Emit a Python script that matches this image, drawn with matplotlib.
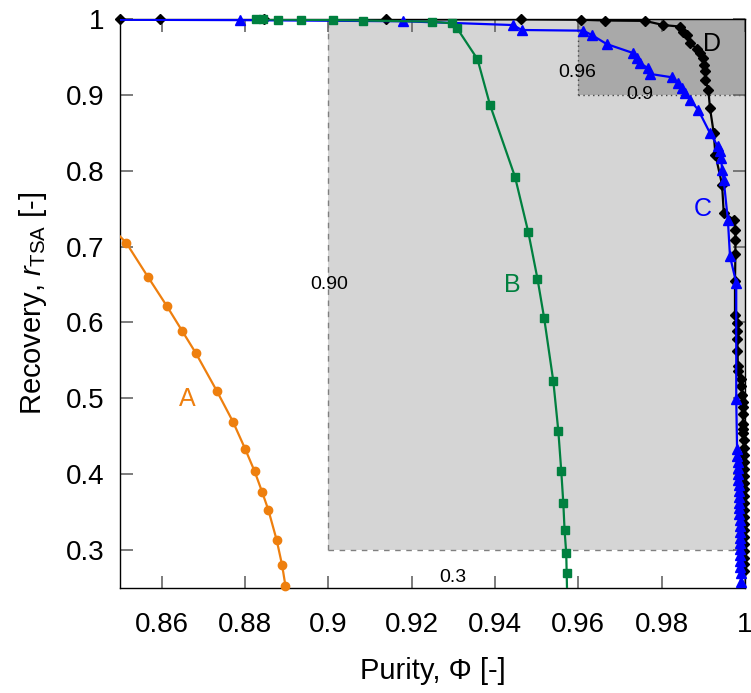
import matplotlib
matplotlib.use("Agg")
import matplotlib.pyplot as plt
from matplotlib.patches import Rectangle

plt.rcParams["font.family"] = ["Liberation Sans", "DejaVu Sans"]
plt.rcParams["mathtext.fontset"] = "custom"
plt.rcParams["mathtext.rm"] = "Liberation Sans"
plt.rcParams["mathtext.it"] = "Liberation Sans:italic"

# --- Pareto fronts: purity (x) vs. recovery (y) ---
a_purity = [0.8485, 0.8515, 0.8567, 0.8612, 0.8649, 0.8682, 0.8732, 0.8771, 0.8800,
            0.8823, 0.8841, 0.8856, 0.8876, 0.8889, 0.8897]
a_recovery = [0.7220, 0.7049, 0.6601, 0.6220, 0.5890, 0.5596, 0.5101, 0.4693, 0.4338,
              0.4039, 0.3767, 0.3530, 0.3132, 0.2803, 0.2530]

b_purity = [0.8827, 0.8843, 0.8880, 0.8934, 0.9011, 0.9082, 0.9248, 0.9296, 0.9308,
            0.9358, 0.9388, 0.9448, 0.9480, 0.9502, 0.9518, 0.9540, 0.9552, 0.9559,
            0.9564, 0.9567, 0.9571, 0.9572, 0.9573]
b_recovery = [0.9995, 0.9995, 0.9993, 0.9990, 0.9985, 0.9980, 0.9965, 0.9943, 0.9886,
              0.9470, 0.8868, 0.7920, 0.7188, 0.6575, 0.6057, 0.5224, 0.4570, 0.4044,
              0.3614, 0.3259, 0.2957, 0.2701, 0.2450]

c_purity = [0.8485, 0.8788, 0.9180, 0.9444, 0.9464, 0.9612, 0.9632, 0.9668, 0.9732,
            0.9740, 0.9748, 0.9768, 0.9772, 0.9824, 0.9840, 0.9848, 0.9856, 0.9868,
            0.9888, 0.9916, 0.9935, 0.9939, 0.9943, 0.9945, 0.9949, 0.9959, 0.9964,
            0.9979, 0.9979, 0.9981, 0.9982, 0.9983, 0.9983, 0.9984, 0.9984, 0.9985,
            0.9985, 0.9985, 0.9986, 0.9986, 0.9986, 0.9987, 0.9987, 0.9987, 0.9988,
            0.9988, 0.9988, 0.9989, 0.9989, 0.9989, 0.9990, 0.9990]
c_recovery = [0.9990, 0.9985, 0.9970, 0.9920, 0.9855, 0.9846, 0.9790, 0.9670, 0.9550,
              0.9480, 0.9417, 0.9350, 0.9276, 0.9232, 0.9150, 0.9088, 0.9020, 0.8934,
              0.8800, 0.8496, 0.8320, 0.8254, 0.8167, 0.8004, 0.7873, 0.7346, 0.6872,
              0.6522, 0.4987, 0.4330, 0.4240, 0.4160, 0.4080, 0.4000, 0.3930, 0.3860,
              0.3780, 0.3700, 0.3620, 0.3550, 0.3470, 0.3400, 0.3320, 0.3240, 0.3160,
              0.3090, 0.3010, 0.2930, 0.2860, 0.2780, 0.2700, 0.2580]

d_purity = [0.8500, 0.8596, 0.8846, 0.9139, 0.9462, 0.9607, 0.9664, 0.9760, 0.9804,
            0.9844, 0.9852, 0.9860, 0.9868, 0.9884, 0.9892, 0.9900, 0.9902, 0.9904,
            0.9905, 0.9912, 0.9916, 0.9925, 0.9929, 0.9945, 0.9949, 0.9973, 0.9977,
            0.9977, 0.9977, 0.9976, 0.9976, 0.9980, 0.9982, 0.9982, 0.9982, 0.9983,
            0.9984, 0.9990, 0.9991, 0.9994, 0.9996, 0.9996, 0.9995, 0.9995, 0.9995,
            0.9996, 0.9997, 0.9997, 0.9997, 0.9997, 0.9997, 0.9998, 0.9998, 0.9998,
            0.9998, 0.9998, 0.9998, 0.9998, 0.9998, 0.9998, 0.9998, 0.9998, 0.9998,
            0.9998, 0.9998, 0.9998]
d_recovery = [0.9995, 0.9995, 0.9995, 0.9995, 0.9995, 0.9990, 0.9980, 0.9975, 0.9920,
              0.9900, 0.9830, 0.9790, 0.9680, 0.9610, 0.9550, 0.9480, 0.9390, 0.9310,
              0.9200, 0.9066, 0.8825, 0.8496, 0.8210, 0.7816, 0.7443, 0.7355, 0.7224,
              0.7083, 0.6908, 0.6543, 0.6105, 0.5996, 0.5886, 0.5780, 0.5627, 0.5430,
              0.5359, 0.5250, 0.5160, 0.5050, 0.4947, 0.4880, 0.4800, 0.4665, 0.4600,
              0.4540, 0.4450, 0.4340, 0.4250, 0.4160, 0.4070, 0.3980, 0.3890, 0.3800,
              0.3710, 0.3620, 0.3530, 0.3440, 0.3350, 0.3260, 0.3170, 0.3080, 0.2990,
              0.2900, 0.2810, 0.2720]

x_ticks = [0.86, 0.88, 0.90, 0.92, 0.94, 0.96, 0.98, 1.00]
x_tick_labels = ["0.86", "0.88", "0.9", "0.92", "0.94", "0.96", "0.98", "1"]
y_ticks = [0.3, 0.4, 0.5, 0.6, 0.7, 0.8, 0.9, 1.0]
y_tick_labels = ["0.3", "0.4", "0.5", "0.6", "0.7", "0.8", "0.9", "1"]

# specification windows (purity, recovery lower bounds)
spec_wide = (0.90, 0.30)
spec_tight = (0.96, 0.90)

X_LIM = (0.85, 1.0)
Y_LIM = (0.25, 1.0)

fig = plt.figure(figsize=(7.51, 6.93), dpi=100)
ax = fig.add_axes([0.1598, 0.1515, 0.8322, 0.8211])
ax.set_xlim(*X_LIM)
ax.set_ylim(*Y_LIM)

# shaded target regions
ax.add_patch(Rectangle(spec_wide, 1.0 - spec_wide[0], 1.0 - spec_wide[1],
                       facecolor="#d5d5d5", edgecolor="none", zorder=0))
ax.add_patch(Rectangle(spec_tight, 1.0 - spec_tight[0], 1.0 - spec_tight[1],
                       facecolor="#a9a9a9", edgecolor="none", zorder=0.5))
ax.plot([spec_wide[0], spec_wide[0]], [spec_wide[1], 1.0], ls=(0, (4, 4)),
        color="#808080", lw=1.0, zorder=1)
ax.plot([spec_wide[0], 1.0], [spec_wide[1], spec_wide[1]], ls=(0, (4, 4)),
        color="#808080", lw=1.0, zorder=1)
ax.plot([spec_tight[0], spec_tight[0]], [spec_tight[1], 1.0], ls=(0, (1, 2.5)),
        color="#444444", lw=1.0, zorder=1)
ax.plot([spec_tight[0], 1.0], [spec_tight[1], spec_tight[1]], ls=(0, (1, 2.5)),
        color="#444444", lw=1.0, zorder=1)

ax.text(0.9001, 0.650, "0.90", fontsize=14, ha="center", va="center", zorder=2)
ax.text(0.9299, 0.2645, "0.3", fontsize=14, ha="center", va="center", zorder=2)
ax.text(0.9597, 0.930, "0.96", fontsize=14, ha="center", va="center", zorder=2)
ax.text(0.9748, 0.900, "0.9", fontsize=14, ha="center", va="center", zorder=2)


def front(xs, ys, color, marker, ms, z):
    # connecting line is clipped to the frame; points inside the range are
    # drawn whole, even where they overhang the border
    ax.plot(xs, ys, color=color, lw=1.6, zorder=z)
    inside = [(x, y) for x, y in zip(xs, ys)
              if X_LIM[0] <= x <= X_LIM[1] and Y_LIM[0] <= y <= Y_LIM[1]]
    px = [p[0] for p in inside]
    py = [p[1] for p in inside]
    ax.plot(px, py, ls="none", color=color, marker=marker, ms=ms, zorder=z,
            clip_on=False)


front(d_purity, d_recovery, "black", "D", 5, 3)
front(c_purity, c_recovery, "#0000ff", "^", 7, 4)
front(b_purity, b_recovery, "#00803f", "s", 5.5, 5)
front(a_purity, a_recovery, "#ee7f0e", "o", 6, 6)

ax.text(0.8662, 0.499, "A", color="#ee7f0e", fontsize=18, ha="center", va="center")
ax.text(0.9441, 0.650, "B", color="#00803f", fontsize=18, ha="center", va="center")
ax.text(0.9898, 0.749, "C", color="#0000ff", fontsize=18, ha="center", va="center")
ax.text(0.9920, 0.967, "D", color="black", fontsize=18, ha="center", va="center")

ax.set_xticks(x_ticks)
ax.set_xticklabels(x_tick_labels)
ax.set_yticks(y_ticks)
ax.set_yticklabels(y_tick_labels)
ax.tick_params(direction="in", length=9, width=1.2, color="#666666",
               top=True, right=True, labelsize=20, zorder=10)
ax.tick_params(axis="x", pad=17)
ax.tick_params(axis="y", pad=11)
for side in ax.spines.values():
    side.set_linewidth(1.0)
    side.set_zorder(2.5)

ax.set_xlabel("Purity, Φ [-]", fontsize=21, labelpad=14)
ax.set_ylabel(r"Recovery, $r_{\mathrm{TSA}}$ [-]", fontsize=21, labelpad=12)

fig.savefig("out.png", dpi=100)
